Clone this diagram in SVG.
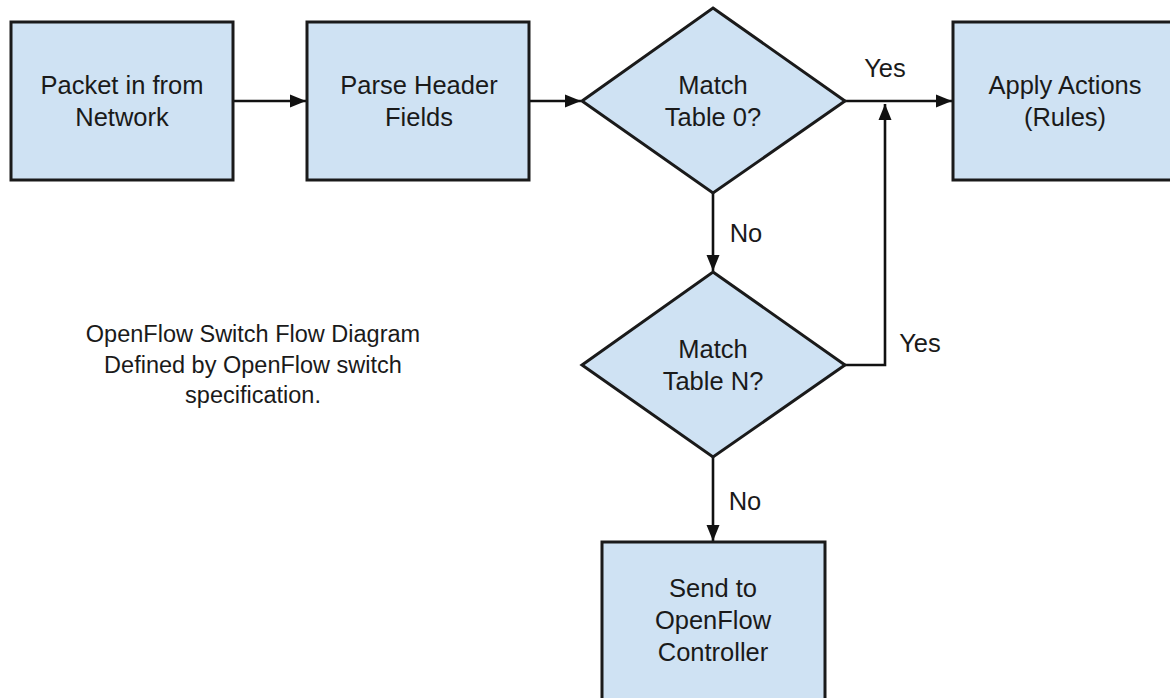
<svg xmlns="http://www.w3.org/2000/svg" width="1170" height="698" viewBox="0 0 1170 698">
  <style>
    .shape { fill: #cfe2f3; stroke: #1a1a1a; stroke-width: 3; }
    .label { font-family: "Liberation Sans", Arial, sans-serif; font-size: 25.5px; fill: #1a1a1a; text-anchor: middle; }
    .note { font-family: "Liberation Sans", Arial, sans-serif; font-size: 23.5px; fill: #1a1a1a; text-anchor: middle; }
    .edge { fill: none; stroke: #111; stroke-width: 2.6; }
  </style>
  <defs>
    <marker id="arrow" markerUnits="userSpaceOnUse" markerWidth="17" markerHeight="14" refX="16" refY="7" orient="auto">
      <path d="M0,0.5 L16,7 L0,13.5 z" fill="#111"/>
    </marker>
  </defs>
  <rect width="1170" height="698" fill="#ffffff"/>

  <!-- connectors -->
  <g id="connectors">
    <path class="edge" d="M233,101 L306,101" marker-end="url(#arrow)"/>
    <path class="edge" d="M529,101 L581,101" marker-end="url(#arrow)"/>
    <path class="edge" d="M845,101 L952,101" marker-end="url(#arrow)"/>
    <path class="edge" d="M713,193 L713,271" marker-end="url(#arrow)"/>
    <path class="edge" d="M845,365 L885,365 L885,104" marker-end="url(#arrow)"/>
    <path class="edge" d="M713,457 L713,541" marker-end="url(#arrow)"/>
    <text class="label" x="885" y="77">Yes</text>
    <text class="label" x="746" y="242">No</text>
    <text class="label" x="920" y="352">Yes</text>
    <text class="label" x="745" y="510">No</text>
  </g>

  <g id="packet-in">
    <rect class="shape" x="11" y="22" width="222" height="158"/>
    <text class="label" x="122" y="94">Packet in from</text>
    <text class="label" x="122" y="126">Network</text>
  </g>

  <g id="parse-header">
    <rect class="shape" x="307" y="22" width="222" height="158"/>
    <text class="label" x="419" y="94">Parse Header</text>
    <text class="label" x="419" y="126">Fields</text>
  </g>

  <g id="match-table-0">
    <polygon class="shape" points="713,8 845,101 713,193 582,101"/>
    <text class="label" x="713" y="94">Match</text>
    <text class="label" x="713" y="126">Table 0?</text>
  </g>

  <g id="apply-actions">
    <rect class="shape" x="953" y="22" width="224" height="158"/>
    <text class="label" x="1065" y="94">Apply Actions</text>
    <text class="label" x="1065" y="126">(Rules)</text>
  </g>

  <g id="match-table-n">
    <polygon class="shape" points="713,272 845,365 713,457 582,365"/>
    <text class="label" x="713" y="358">Match</text>
    <text class="label" x="713" y="390">Table N?</text>
  </g>

  <g id="send-to-controller">
    <rect class="shape" x="602" y="542" width="223" height="170"/>
    <text class="label" x="713" y="597">Send to</text>
    <text class="label" x="713" y="629">OpenFlow</text>
    <text class="label" x="713" y="661">Controller</text>
  </g>

  <g id="caption">
    <text class="note" x="253" y="342">OpenFlow Switch Flow Diagram</text>
    <text class="note" x="253" y="373">Defined by OpenFlow switch</text>
    <text class="note" x="253" y="403">specification.</text>
  </g>
</svg>
